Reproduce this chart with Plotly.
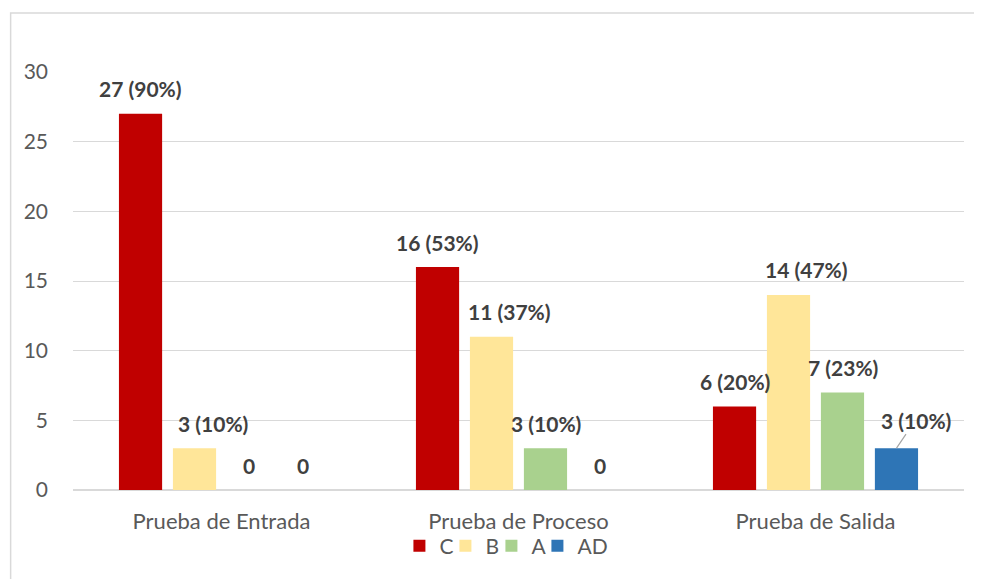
import plotly.graph_objects as go

categorias = ["Prueba de Entrada", "Prueba de Proceso", "Prueba de Salida"]
series = ["C", "B", "A", "AD"]
colores = ["#C00000", "#FFE699", "#A9D18E", "#2E75B6"]
valores_C = [27, 16, 6]
valores_B = [3, 11, 14]
valores_A = [0, 3, 7]
valores_AD = [0, 0, 3]
porc_C = ["90%", "53%", "20%"]
porc_B = ["10%", "37%", "47%"]
porc_A = ["", "10%", "23%"]
porc_AD = ["", "", "10%"]

valores = [valores_C, valores_B, valores_A, valores_AD]
porcentajes = [porc_C, porc_B, porc_A, porc_AD]

fuente = "Lato"
fig = go.Figure()
for nombre, col, vals in zip(series, colores, valores):
    # ancho de leyenda ajustado: el último necesita espacio para "AD"
    fig.add_trace(go.Bar(x=categorias, y=vals, name=nombre, marker_color=col,
                         marker_line_width=0,
                         legendwidth=32 if nombre == "AD" else 1))

# etiquetas de datos (ajustes manuales como en el original)
paso = 54
ajuste_x = {"C": 0, "B": 18, "A": 0, "AD": 0}
for i, (nombre, vals, pcts) in enumerate(zip(series, valores, porcentajes)):
    for cat, v, p in zip(categorias, vals, pcts):
        texto = f"{v} ({p})" if p else f"{v}"
        dx = (i - 1.5) * paso + ajuste_x[nombre]
        if nombre == "AD" and v > 0:
            fig.add_annotation(x=cat, y=v, xshift=dx, text=f"<b>{texto}</b>",
                               showarrow=True, arrowhead=0, arrowwidth=1.2,
                               arrowcolor="#A6A6A6", ax=19, ay=-28,
                               font=dict(family=fuente, size=21, color="#404040"))
        else:
            fig.add_annotation(x=cat, y=v, xshift=dx, yshift=25, text=f"<b>{texto}</b>",
                               showarrow=False, yanchor="middle",
                               font=dict(family=fuente, size=21, color="#404040"))

# borde del gráfico
fig.add_shape(type="rect", xref="paper", yref="paper", x0=-0.07, x1=1.2,
              y0=-0.5, y1=1.141, line=dict(color="#D9D9D9", width=1.5),
              fillcolor="rgba(0,0,0,0)", layer="below")

# la página tiene 8 px de margen propio (body), se compensa aquí
fig.update_layout(
    width=982, height=579,
    margin=dict(l=65, r=26, t=64, b=97),
    paper_bgcolor="white", plot_bgcolor="white",
    barmode="group", bargap=0.273, bargroupgap=0.2,
    font=dict(family=fuente, color="#595959"),
    showlegend=True,
    legend=dict(orientation="h", x=0.487, xanchor="center", y=-0.085, yanchor="top",
                bgcolor="rgba(0,0,0,0)",
                font=dict(family=fuente, size=21, color="#595959"),
                itemwidth=30, traceorder="normal"),
)
fig.update_yaxes(range=[0, 30], dtick=5, showgrid=True, gridcolor="#D9D9D9",
                 gridwidth=1, zeroline=True, zerolinecolor="#D9D9D9",
                 showline=False, ticks="", ticklabelstandoff=24, automargin=False,
                 tickfont=dict(family=fuente, size=21, color="#595959"))
fig.update_xaxes(showline=False, ticks="", ticklabelstandoff=16, automargin=False,
                 tickfont=dict(family=fuente, size=22, color="#595959"))

fig.write_html("out.html")
